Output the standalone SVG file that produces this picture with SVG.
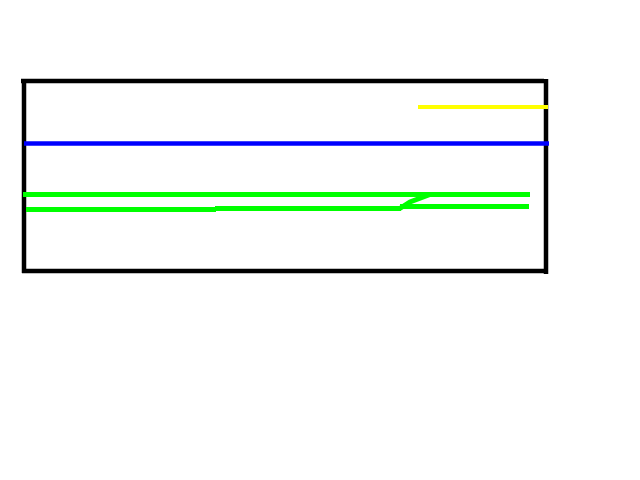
<svg xmlns="http://www.w3.org/2000/svg" width="640" height="480" viewBox="0 0 640 480">
<style>
.blk{stroke:#000;stroke-width:4.5;fill:none}
.g{stroke:#00ff00;stroke-width:5;fill:none}
</style>
<rect width="640" height="480" fill="#fff"/>
<g id="frame">
<line class="blk" x1="21" y1="81" x2="544" y2="81"/>
<line class="blk" x1="24" y1="79" x2="24" y2="273"/>
<line class="blk" x1="546" y1="79" x2="546" y2="274"/>
<line class="blk" x1="22" y1="271" x2="548" y2="271"/>
</g>
<g id="lines">
<line x1="418" y1="107" x2="548" y2="107" stroke="#ffff00" stroke-width="4"/>
<line x1="24" y1="143.5" x2="549" y2="143.5" stroke="#0000ff" stroke-width="4.5"/>
<line class="g" x1="23" y1="194.5" x2="530" y2="194.5"/>
<line class="g" x1="26" y1="209.5" x2="216" y2="209.5"/>
<line class="g" x1="215" y1="208.5" x2="401" y2="208.5"/>
<polyline class="g" points="399,209 410,202 430,194.5"/>
<line class="g" x1="400" y1="206.5" x2="529" y2="206.5" stroke-width="4.5"/>
</g>
</svg>
